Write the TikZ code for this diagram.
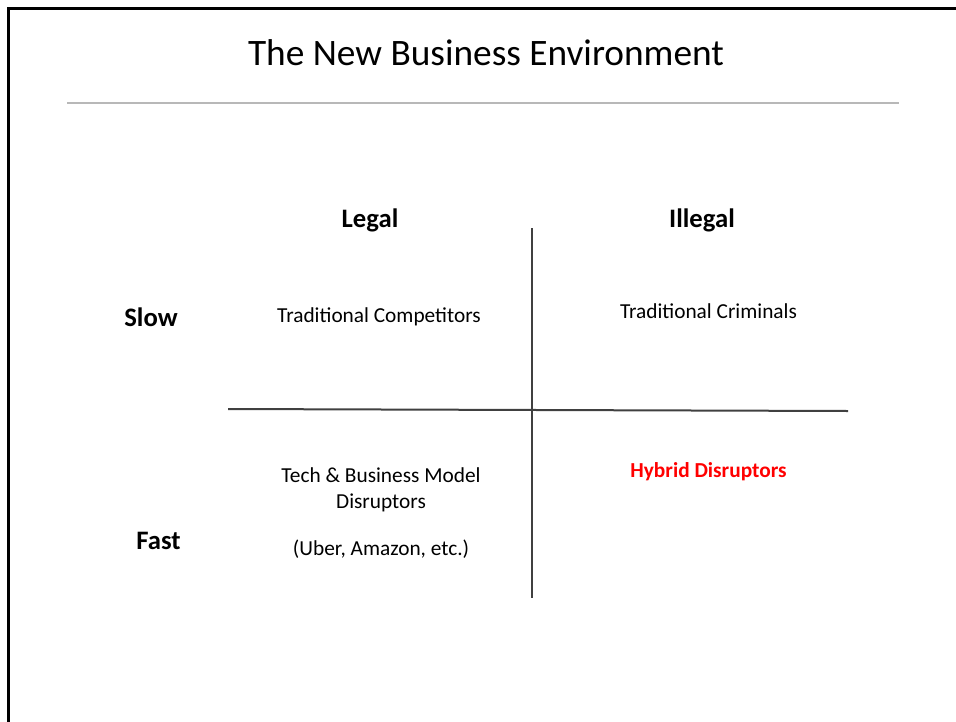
\documentclass[tikz,border=0pt]{standalone}
\usepackage{fontspec}
\setmainfont{Carlito}
\usepackage{xcolor}
\usepackage{tikz}

\begin{document}
\begin{tikzpicture}[x=0.75pt,y=-0.75pt,
      frame/.style={line width=2.2pt,draw=black},
      rule/.style={line width=1.2pt,draw=black!28},
      axis/.style={line width=1.5pt,draw=black!75},
      title/.style={font=\fontsize{28}{34}\selectfont},
      head/.style={font=\fontsize{20}{24}\selectfont\bfseries},
      cell/.style={font=\fontsize{16}{19.5}\selectfont,align=center}]
      \tikzstyle{every node}=[inner sep=0pt,anchor=base]
      \useasboundingbox (0,0) rectangle (956,721);
      \coordinate (FrameB) at (8.5,740);
      \coordinate (FrameC) at (8.5,8.5);
      \coordinate (FrameR) at (975,8.5);
      \coordinate (RuleL) at (67,103);
      \coordinate (RuleR) at (899,103);
      \coordinate (AxisL) at (228,409);
      \coordinate (AxisR) at (848,411);
      \coordinate (AxisT) at (532,228);
      \coordinate (AxisB) at (532,598);
      \draw[frame] (FrameB) -- (FrameC) -- (FrameR);
      \draw[rule] (RuleL) -- (RuleR);
      \draw[axis] (AxisL) -- (AxisR);
      \draw[axis] (AxisT) -- (AxisB);
      \node[title] (Title) at (486,65) {The New Business Environment};
      \node[head] (Legal) at (370,227) {Legal};
      \node[head] (Illegal) at (702,227) {Illegal};
      \node[head] (Slow) at (151,326) {Slow};
      \node[head] (Fast) at (158.5,549) {Fast};
      \node[cell] (Competitors) at (379,322) {Traditional Competitors};
      \node[cell] (Criminals) at (708.5,318) {Traditional Criminals};
      \node[cell] (TechBiz) at (381,555) {Tech \& Business Model\\Disruptors\\[15.75pt](Uber, Amazon, etc.)};
      \node[cell,text=red,font=\fontsize{16}{20}\selectfont\bfseries] (Hybrid) at (708.5,477) {Hybrid Disruptors};
      % \noindent
\end{tikzpicture}
\end{document}
